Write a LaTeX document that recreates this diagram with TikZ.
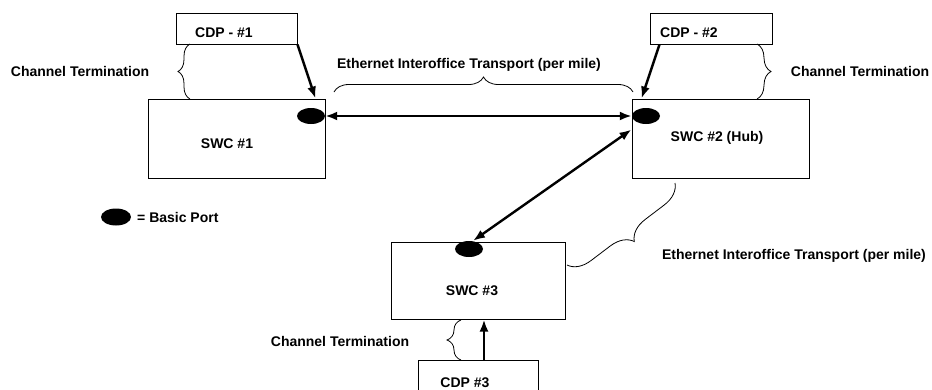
\documentclass[tikz,border=0pt]{standalone}
\usepackage{fontspec}
\setmainfont{Liberation Sans}
\usetikzlibrary{arrows.meta,decorations.pathreplacing,shapes.geometric,calc}
\begin{document}
\begin{tikzpicture}[x=1pt,y=-1pt,
  box/.style={draw,line width=1pt,minimum width=#1,inner sep=0pt},
  port/.style={ellipse,fill=black,inner sep=0pt,minimum width=28pt,minimum height=16pt},
  lbl/.style={inner sep=0pt,font=\fontsize{14}{16}\selectfont\bfseries},
  conn/.style={line width=2.4pt,-{Latex[length=12pt,width=9pt]}},
  dconn/.style={line width=2.4pt,{Latex[length=12pt,width=9pt]}-{Latex[length=12pt,width=9pt]}},
  brc/.style={draw,line width=0.8pt,decorate,decoration={brace,amplitude=#1}}]
\useasboundingbox (0,0) rectangle (932,389);
\clip (0,0) rectangle (932,389);
% boxes
\node[box=121pt,minimum height=31pt] (cdp1) at (236.5,28.5) {};
\node[box=177pt,minimum height=79pt] (swc1) at (236.5,138.5) {};
\node[box=122pt,minimum height=31pt] (cdp2) at (711,28.5) {};
\node[box=177pt,minimum height=79pt] (swc2) at (720.5,138.5) {};
\node[box=174pt,minimum height=77pt] (swc3) at (478,280.5) {};
\node[box=120pt,minimum height=50pt] (cdp3) at (478,385) {};
% ports
\node[port] (p1) at (311,116) {};
\node[port] (p2) at (646,116) {};
\node[port] (p3) at (469,249) {};
\node[port,minimum width=30pt,minimum height=17pt] (pl) at (116,217) {};
% texts
\node[lbl,anchor=west] (t1) at (195,33) {CDP - \#1};
\node[lbl,anchor=west] (t2) at (660,33) {CDP - \#2};
\node[lbl] (t3) at (465,383) {CDP \#3};
\node[lbl] (s1) at (227,144) {SWC \#1};
\node[lbl] (s2) at (717,138) {SWC \#2 (Hub)};
\node[lbl] (s3) at (472,291) {SWC \#3};
\node[lbl] (ct1) at (80,71) {Channel Termination};
\node[lbl] (ct2) at (860,71) {Channel Termination};
\node[lbl] (ct3) at (340,341) {Channel Termination};
\node[lbl] (e1) at (469,65) {Ethernet Interoffice Transport (per mile)};
\node[lbl] (e2) at (794,256) {Ethernet Interoffice Transport (per mile)};
\node[lbl,anchor=west] (bp) at (137,217) {= Basic Port};
% connectors
\draw[conn] (cdp1.south east) -- ($(swc1.north east)+(-10,0)$);
\draw[conn] ($(cdp2.south west)+(10,0)$) -- ($(swc2.north west)+(10,0)$);
\draw[dconn] (p1.east) -- (p2.west);
\draw[dconn] ($(p3.north)+(4,0)$) -- ($(swc2.north west)+(0,31)$);
\draw[conn] ($(cdp3.north)+(6,0)$) -- ($(swc3.south)+(6,0)$);
% braces
\draw[brc=12pt] (190,99) -- (190,44);
\draw[brc=15pt] (334,92) -- (633,92);
\draw[brc=14pt] (757,44) -- (757,99);
\draw[brc=14pt] (461,360) -- (461,320);
\draw[brc=22pt] (675,183) -- (567,265);
\end{tikzpicture}
\end{document}
